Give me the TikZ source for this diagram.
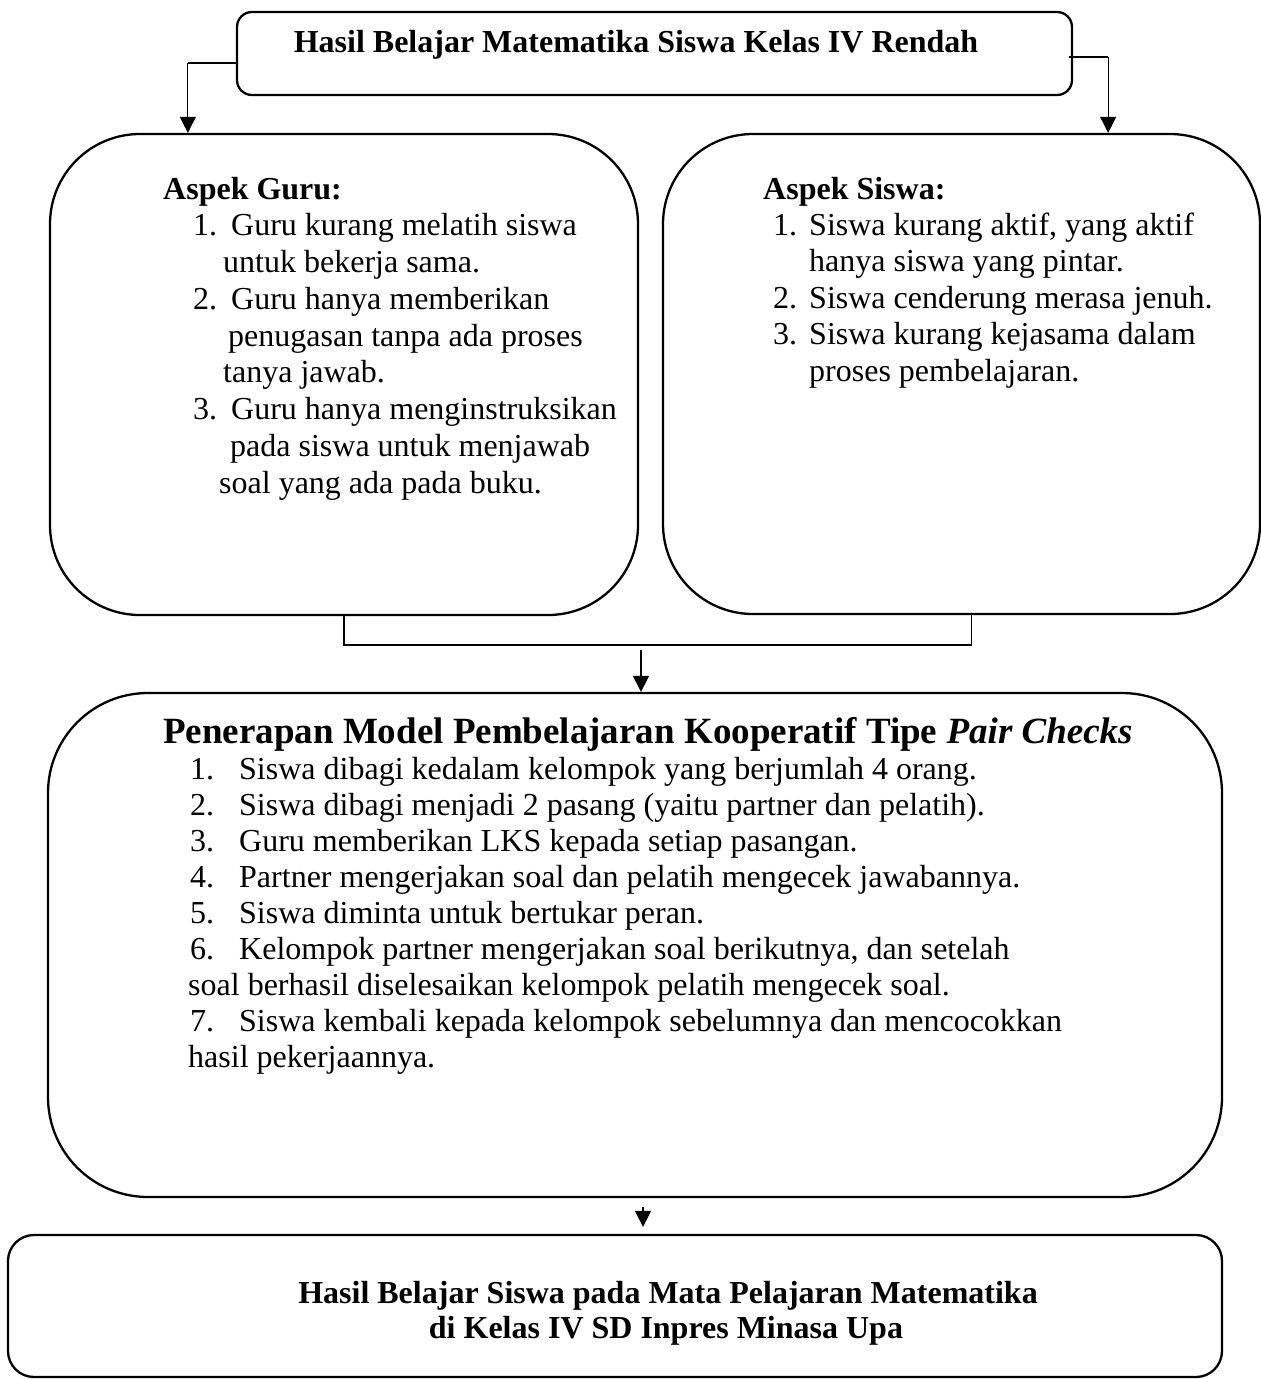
\documentclass[tikz,border=0pt]{standalone}
\usepackage{fontspec}
\setmainfont{Liberation Serif}
\usepackage{tikz}
\usetikzlibrary{calc,arrows.meta}

\tikzset{
    box/.style={draw, line width=2.3pt, rounded corners=#1, inner sep=0pt},
    txt/.style={anchor=base west, inner sep=0pt, font=\fontsize{32}{36}\selectfont},
    elbow/.style={line width=1.6pt},
    arrow/.style={line width=1.2pt, -{Triangle[length=16pt,width=16pt]}}
}

\begin{document}
\begin{tikzpicture}[x=1pt, y=-1pt]
    \useasboundingbox (0,0) rectangle (1261,1379);

    % Boxes
    \node[box=15pt, minimum width=835pt, minimum height=83pt] (top) at (654.5,53.5) {};
    \node[box=90pt, minimum width=588pt, minimum height=481pt] (guru) at (344,374.5) {};
    \node[box=90pt, minimum width=597pt, minimum height=480pt] (siswa) at (961.5,374) {};
    \node[box=100pt, minimum width=1174pt, minimum height=504pt] (pc) at (635,945) {};
    \node[box=26pt, minimum width=1214pt, minimum height=142pt] (hasil) at (615,1306) {};

    % Title
    \node[txt, anchor=base] (toptext) at (636,52) {\textbf{Hasil Belajar Matematika Siswa Kelas IV Rendah}};

    % Aspek Guru
    \node[txt] (guruhead) at (163,199) {\textbf{Aspek Guru:}};
    \foreach \n/\y/\t in {%
        1/235.75/{Guru kurang melatih siswa},%
        2/309.25/{Guru hanya memberikan},%
        3/419.5/{Guru hanya menginstruksikan}%
    } {
        \node[txt] (gurunum\n) at (193,\y) {\n.};
        \node[txt] (guruitem\n) at (231,\y) {\t};
    }
    \node[txt] (gurucont1) at (223,272.5) {untuk bekerja sama.};
    \node[txt] (gurucont2) at (228,346) {penugasan tanpa ada proses};
    \node[txt] (gurucont3) at (223,382.75) {tanya jawab.};
    \node[txt] (gurucont4) at (230,456.25) {pada siswa untuk menjawab};
    \node[txt] (gurucont5) at (219,493) {soal yang ada pada buku.};

    % Aspek Siswa
    \node[txt] (siswahead) at (763,199) {\textbf{Aspek Siswa:}};
    \foreach \n/\y/\t in {%
        1/235.5/{Siswa kurang aktif, yang aktif},%
        2/308.3/{Siswa cenderung merasa jenuh.},%
        3/344.7/{Siswa kurang kejasama dalam}%
    } {
        \node[txt] (siswanum\n) at (773,\y) {\n.};
        \node[txt] (siswaitem\n) at (809,\y) {\t};
    }
    \node[txt] (siswacont1) at (809,271.9) {hanya siswa yang pintar.};
    \node[txt] (siswacont2) at (809,381.1) {proses pembelajaran.};

    % Pair Checks
    \node[txt, font=\fontsize{37}{40}\selectfont] (pchead) at (163,743) {\textbf{Penerapan Model Pembelajaran Kooperatif Tipe \textit{Pair Checks}}};
    \foreach \n/\y/\t in {%
        1/779/{Siswa dibagi kedalam kelompok yang berjumlah 4 orang.},%
        2/815/{Siswa dibagi menjadi 2 pasang (yaitu partner dan pelatih).},%
        3/851/{Guru memberikan LKS kepada setiap pasangan.},%
        4/887/{Partner mengerjakan soal dan pelatih mengecek jawabannya.},%
        5/923/{Siswa diminta untuk bertukar peran.},%
        6/959/{Kelompok partner mengerjakan soal berikutnya, dan setelah},%
        7/1031/{Siswa kembali kepada kelompok sebelumnya dan mencocokkan}%
    } {
        \node[txt] (pcnum\n) at (190,\y) {\n.};
        \node[txt] (pcitem\n) at (239,\y) {\t};
    }
    \node[txt] (pccont1) at (188,995) {soal berhasil diselesaikan kelompok pelatih mengecek soal.};
    \node[txt] (pccont2) at (188,1067) {hasil pekerjaannya.};

    % Result
    \node[txt, anchor=base] (hasil1) at (668,1303) {\textbf{Hasil Belajar Siswa pada Mata Pelajaran Matematika}};
    \node[txt, anchor=base] (hasil2) at (666,1338) {\textbf{di Kelas IV SD Inpres Minasa Upa}};

    % Connectors
    \draw[elbow] ([yshift=-9.5pt]top.west) -- ++(-48,0) coordinate (tl);
    \draw[arrow] (tl) -- (tl |- guru.north);
    \draw[elbow] ([shift={(-4pt,-3.5pt)}]top.east) -- ++(39,0) coordinate (tr);
    \draw[arrow] (tr) -- (tr |- siswa.north);
    \draw[elbow] (guru.south) -- ++(0,29) -| ([xshift=10pt]siswa.south);
    \draw[arrow] ([xshift=6pt]pc.north) ++(0,-42) -- ([xshift=6pt]pc.north);
    \draw[arrow] ([shift={(8pt,-9pt)}]pc.south) coordinate (ba) -- ($(ba |- hasil.north)+(0,-7)$);
\end{tikzpicture}
\end{document}
